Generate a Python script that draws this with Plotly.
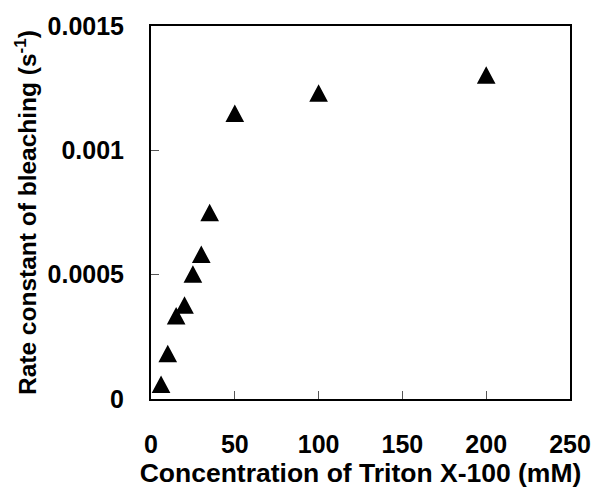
import plotly.graph_objects as go

# Triton X-100 concentration (mM) and bleaching rate constant (s^-1)
conc_mM = [6, 10, 15, 20, 25, 30, 35, 50, 100, 200]
rate_s = [0.000059, 0.000183, 0.000335, 0.000378, 0.000503, 0.000582,
          0.000750, 0.001149, 0.001231, 0.001303]

x_ticks = [0, 50, 100, 150, 200, 250]
y_ticks = [0, 0.0005, 0.001, 0.0015]
y_tick_text = ["0", "0.0005", "0.001", "0.0015"]

W, H = 603, 491
ML, MR, MT, MB = 151, 26, 17, 90
X_RANGE = (0, 250)
Y_RANGE = (0, 0.0015)

# triangle marker size in pixels, converted to data units
px_x = (W - ML - MR) / (X_RANGE[1] - X_RANGE[0])
px_y = (H - MT - MB) / (Y_RANGE[1] - Y_RANGE[0])
half_w = 9.5 / px_x
half_h = 9.0 / px_y

tx, ty = [], []
for x, y in zip(conc_mM, rate_s):
    tx += [x - half_w, x + half_w, x, x - half_w, None]
    ty += [y - half_h, y - half_h, y + half_h, y - half_h, None]

tick_font = dict(family="Liberation Sans, Arial, sans-serif", color="black",
                 size=25, weight="bold")
x_title_font = dict(family="Liberation Sans, Arial, sans-serif", color="black",
                    size=26.5, weight="bold")
y_title_font = dict(family="Liberation Sans, Arial, sans-serif", color="black",
                    size=24.5, weight="bold")

fig = go.Figure()
fig.add_trace(go.Scatter(x=tx, y=ty, mode="lines", fill="toself",
                         fillcolor="black", line=dict(color="black", width=0),
                         hoverinfo="skip", showlegend=False))

fig.update_layout(
    width=W, height=H,
    margin=dict(l=ML, r=MR, t=MT, b=MB, pad=0),
    paper_bgcolor="white", plot_bgcolor="white",
    font=tick_font, showlegend=False,
)
fig.update_xaxes(
    range=list(X_RANGE), tickvals=x_ticks, ticks="inside", ticklen=8,
    tickwidth=1, tickcolor="#555", showline=True, linewidth=2,
    linecolor="black", mirror=True, showgrid=False, zeroline=False,
    tickfont=tick_font, ticklabelstandoff=22,
    title=dict(text="Concentration of Triton X-100 (mM)", standoff=2,
               font=x_title_font),
)
fig.update_yaxes(
    range=list(Y_RANGE), tickvals=y_ticks, ticktext=y_tick_text,
    ticks="inside", ticklen=8, tickwidth=1, tickcolor="#555",
    showline=True, linewidth=2, linecolor="black", mirror=True,
    showgrid=False, zeroline=False, tickfont=tick_font,
    ticklabelstandoff=20,
    title=dict(text="Rate constant of bleaching (s<sup>-1</sup>)",
               standoff=4, font=y_title_font),
)

fig.write_html("out.html")
